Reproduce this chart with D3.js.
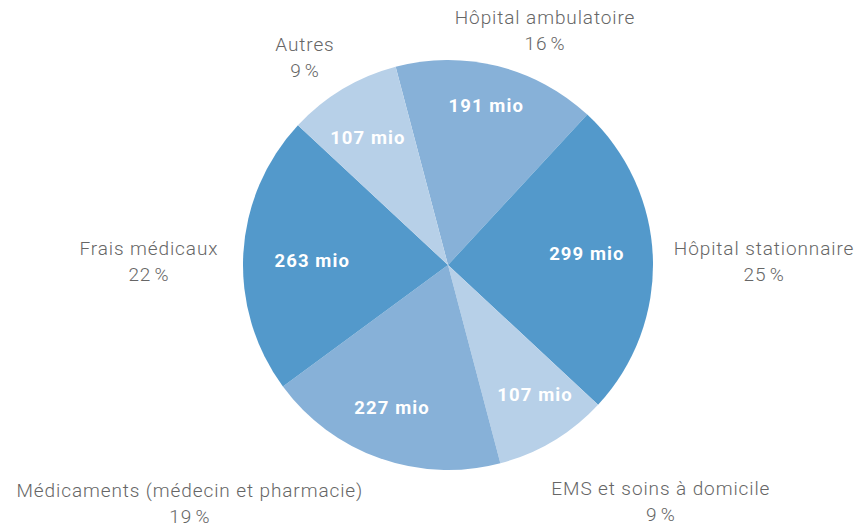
<!DOCTYPE html>
<html>
<head>
<meta charset="utf-8">
<script src="https://cdn.jsdelivr.net/npm/d3@7"></script>
<style>
  body { margin: 0; background: #fff; }
  .cat { font-family: Roboto, sans-serif; font-weight: 300; font-size: 19px; letter-spacing: 0.9px; fill: #666; }
  .val { font-family: Roboto, sans-serif; font-weight: 700; font-size: 18.5px; letter-spacing: 1.1px; fill: #fff; }
</style>
</head>
<body>
<div id="pie"></div>
<script>
var categories = ["Hôpital ambulatoire", "Hôpital stationnaire", "EMS et soins à domicile",
    "Médicaments (médecin et pharmacie)", "Frais médicaux", "Autres"];
var values = [191, 299, 107, 227, 263, 107];
var shades = ["#87b1d8", "#5399cb", "#b7d0e8", "#87b1d8", "#5399cb", "#b7d0e8"];

// small hand nudges for the labels (dx, dy)
var labelNudge = [[39, -2], [-14, 5], [-20, 30], [-5, 12], [10, 10], [10, -2]];
var valueNudge = [[2, -13], [-11, -5], [10, 1], [-6, 2], [14, 5], [-3, 2]];

var width = 855, height = 527;
var cx = 448, cy = 265, radius = 205;
var startAngle = -14.8 * Math.PI / 180;

var svg = d3.select("#pie").append("svg")
    .attr("width", width)
    .attr("height", height)
    .append("g")
    .attr("transform", "translate(" + cx + "," + cy + ")");

var data = categories.map(function(c, i) {
    return { name: c, value: values[i], color: shades[i], i: i };
});
var total = d3.sum(values);

var pie = d3.pie()
    .sort(null)
    .value(function(d) { return d.value; })
    .startAngle(startAngle)
    .endAngle(startAngle + 2 * Math.PI);

var arc = d3.arc().innerRadius(0).outerRadius(radius);
var valArc = d3.arc().innerRadius(0).outerRadius(300);
var labelArc = d3.arc().innerRadius(240).outerRadius(240);

var arcs = pie(data);

svg.selectAll("path.slice")
    .data(arcs)
    .enter().append("path")
    .attr("class", "slice")
    .attr("fill", function(d) { return d.data.color; })
    .attr("d", arc);

// values inside slices
svg.selectAll("text.val")
    .data(arcs)
    .enter().append("text")
    .attr("class", "val")
    .attr("text-anchor", "middle")
    .attr("transform", function(d) {
        var c = valArc.centroid(d);
        var n = valueNudge[d.data.i];
        return "translate(" + (c[0] + n[0]) + "," + (c[1] + 6 + n[1]) + ")";
    })
    .text(function(d) { return d.data.value + " mio"; });

// category labels outside
var lab = svg.selectAll("text.cat")
    .data(arcs)
    .enter().append("text")
    .attr("class", "cat")
    .attr("text-anchor", function(d) {
        var s = Math.sin((d.startAngle + d.endAngle) / 2);
        return s > 0.3 ? "start" : (s < -0.3 ? "end" : "middle");
    })
    .attr("transform", function(d) {
        var c = labelArc.centroid(d);
        var n = labelNudge[d.data.i];
        return "translate(" + (c[0] + n[0]) + "," + (c[1] + n[1]) + ")";
    });

lab.append("tspan")
    .attr("x", 0)
    .attr("y", -6)
    .text(function(d) { return d.data.name; });

lab.append("tspan")
    .attr("x", function() {
        var a = d3.select(this.parentNode).attr("text-anchor");
        var w = this.parentNode.firstChild.getComputedTextLength();
        return a === "start" ? w / 2 : (a === "end" ? -w / 2 : 0);
    })
    .attr("text-anchor", "middle")
    .attr("y", 20)
    .text(function(d) { return Math.round(d.data.value / total * 100) + "\u202f%"; });
</script>
</body>
</html>
